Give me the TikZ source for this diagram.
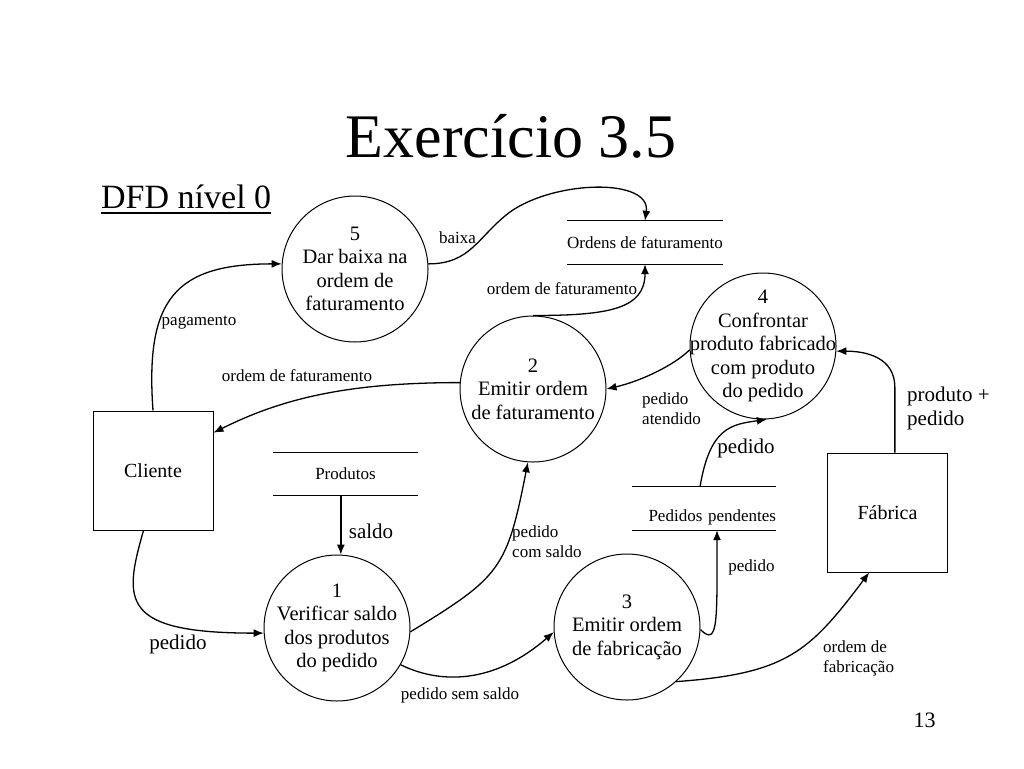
\documentclass[tikz,border=0pt]{standalone}
\usepackage{fontspec}
\setmainfont{Liberation Serif}
\usetikzlibrary{arrows.meta}

\begin{document}
\begin{tikzpicture}[x=1pt,y=-1pt,
    process/.style={circle,draw,line width=1pt,minimum size=146pt,inner sep=-20pt,
        align=center,font=\fontsize{20.5}{23.5}\selectfont},
    entity/.style={rectangle,draw,line width=1pt,minimum width=120pt,minimum height=119pt,
        font=\fontsize{20}{23}\selectfont},
    store/.style={minimum width=145pt,minimum height=43pt,inner sep=0pt,
        font=\fontsize{17}{20}\selectfont},
    descr/.style={font=\fontsize{17}{20}\selectfont,align=left,inner sep=0pt},
    bigdescr/.style={font=\fontsize{21}{23.5}\selectfont,align=left,inner sep=0pt},
    flow/.style={line width=1.3pt,-{Latex[length=10pt,width=8pt]}}]
    \useasboundingbox (0,0) rectangle (1024,768);

    % titles
    \node[anchor=base,inner sep=0pt,font=\fontsize{62}{70}\selectfont] (title) at (511,157) {Exercício 3.5};
    \node[anchor=base west,inner sep=0pt,font=\fontsize{34}{40}\selectfont] (level) at (101,208) {DFD nível 0};
    \draw[line width=1.5pt] ([yshift=-5pt]level.base west) -- ([yshift=-5pt]level.base east);
    \node[anchor=base,inner sep=0pt,font=\fontsize{22}{26}\selectfont] (pagenum) at (924.5,727) {13};

    % processes
    \node[process] (p5) at (355,269) {5\\Dar baixa na\\ordem de\\faturamento};
    \node[process] (p2) at (533,389) {2\\Emitir ordem\\de faturamento};
    \node[process] (p4) at (763,346) {4\\Confrontar\\produto fabricado\\com produto\\do pedido};
    \node[process] (p1) at (337,628) {1\\Verificar saldo\\dos produtos\\do pedido};
    \node[process] (p3) at (627,627) {3\\Emitir ordem\\de fabricação};

    % external entities
    \node[entity] (cliente) at (153,470.5) {Cliente};
    \node[entity] (fabrica) at (887.5,512.5) {Fábrica};

    % data stores
    \node[store] (ordens) at (645,242.5) {Ordens de faturamento};
    \node[store] (produtos) at (345.5,474) {Produtos};
    \node[store,minimum width=144pt,text width=144pt,align=right,text height=30pt,text depth=4pt] (pendentes) at (704,508.5) {Pedidos pendentes};
    \foreach \s in {ordens,produtos,pendentes}
        \draw[line width=1pt] (\s.north west) -- (\s.north east) (\s.south west) -- (\s.south east);

    % flows
    \coordinate (baixa-knee) at (510,212);
    \draw[flow] (cliente.north) .. controls +(-8,-111) and +(-107,0) .. (p5.176);
    \draw[flow] (p5.4) .. controls +(43,0) and +(-32,24) .. (baixa-knee)
        .. controls +(45,-32) and +(6,-43) .. (ordens.north);
    \draw[flow] (p2.north) .. controls +(75,0) and +(0,45) .. (ordens.south);
    \draw[flow] (p2.175) .. controls +(-110,0) and +(70,-35) .. (cliente.32);
    \draw[flow] (produtos.south -| p1.87) -- (p1.87);
    \draw[flow] (cliente.261) .. controls +(-20,70) and +(-144,0) .. (p1.184);
    \draw[flow] (p1.357) .. controls +(90,-55) and +(-21,107) .. (p2.266);
    \draw[flow] (p1.330) .. controls +(45,22) and +(-55,48) .. (p3.184);
    \draw[flow] (p3.358) .. controls +(18,18) and +(0,90) .. ([xshift=13pt]pendentes.south);
    \draw[flow] ([xshift=-4pt]pendentes.north) .. controls +(10,-60) and +(-35,5) .. (p4.273);
    \draw[flow] (p4.183) .. controls +(-15,15) and +(35,-8) .. (p2.east);
    \draw[flow] (fabrica.83) -- ++(0,-65) .. controls +(0,-30) and +(30,0) .. (p4.356);
    \draw[flow] (p3.312) .. controls +(110,-8) and +(-60,80) .. (fabrica.253);

    % flow labels
    \node[descr,anchor=base] (l-pagamento) at (199,325) {pagamento};
    \node[descr,anchor=base] (l-baixa) at (457.5,243) {baixa};
    \node[descr,anchor=base] (l-ordem-up) at (562,294) {ordem de faturamento};
    \node[descr,anchor=base] (l-ordem-left) at (297,381) {ordem de faturamento};
    \node[descr,anchor=west] (l-atendido) at (642,409) {pedido\\atendido};
    \node[bigdescr,anchor=base] (l-pedido-up) at (746,453) {pedido};
    \node[bigdescr,anchor=base] (l-saldo) at (371,538) {saldo};
    \node[descr,anchor=west] (l-comsaldo) at (512,542) {pedido\\com saldo};
    \node[descr,anchor=base] (l-pedido-pend) at (751.5,571) {pedido};
    \node[bigdescr,anchor=west] (l-produto) at (907,408.5) {produto +\\pedido};
    \node[bigdescr,anchor=base] (l-pedido-cli) at (178,649) {pedido};
    \node[descr,anchor=base] (l-semsaldo) at (460,699) {pedido sem saldo};
    \node[descr,anchor=west] (l-fabricacao) at (823,658.5) {ordem de\\fabricação};
\end{tikzpicture}
\end{document}
